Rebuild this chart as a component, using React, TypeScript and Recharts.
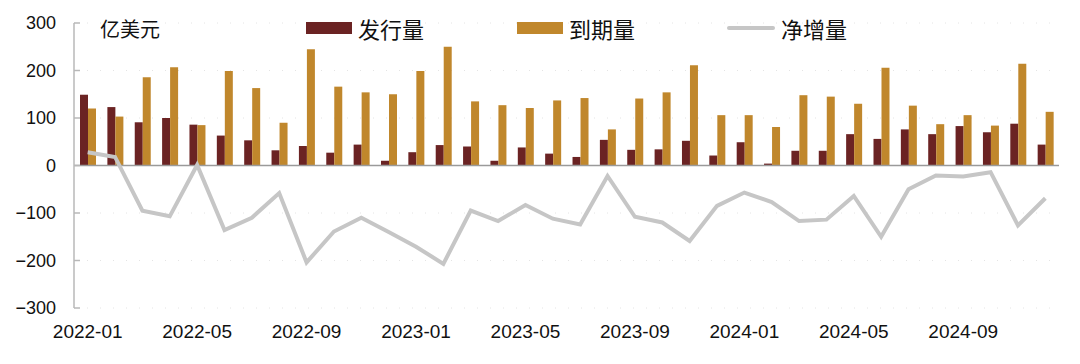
import {
  Bar,
  CartesianGrid,
  ComposedChart,
  Line,
  ReferenceLine,
  XAxis,
  YAxis,
} from 'recharts'

// monthly USD bonds, 亿美元
const months = [
  '2022-01', '2022-02', '2022-03', '2022-04', '2022-05', '2022-06',
  '2022-07', '2022-08', '2022-09', '2022-10', '2022-11', '2022-12',
  '2023-01', '2023-02', '2023-03', '2023-04', '2023-05', '2023-06',
  '2023-07', '2023-08', '2023-09', '2023-10', '2023-11', '2023-12',
  '2024-01', '2024-02', '2024-03', '2024-04', '2024-05', '2024-06',
  '2024-07', '2024-08', '2024-09', '2024-10', '2024-11', '2024-12',
]
const issuance = [
  149, 123, 91, 100, 86, 63, 53, 32, 41, 27, 44, 10,
  28, 43, 40, 10, 38, 25, 18, 54, 33, 34, 52, 21,
  49, 4, 31, 31, 66, 56, 76, 66, 83, 70, 88, 44,
]
const maturity = [
  120, 103, 186, 207, 85, 199, 163, 90, 245, 166, 154, 150,
  199, 250, 135, 127, 121, 137, 142, 76, 141, 154, 211, 106,
  106, 81, 148, 145, 130, 206, 126, 87, 106, 84, 214, 113,
]
const netIncrease = [
  28, 18, -95, -107, 1, -136, -110, -58, -204, -139, -110, -140,
  -171, -207, -95, -117, -83, -112, -124, -22, -108, -120, -159, -85,
  -57, -77, -117, -114, -64, -150, -50, -21, -23, -14, -126, -69,
]
const seriesNames = ['发行量', '到期量', '净增量']
const yTicks = [-300, -200, -100, 0, 100, 200, 300]

const COLORS = { issuance: '#6b2323', maturity: '#c0872c', net: '#c6c6c6' }
const FONT = '"Liberation Sans", Arial, "Noto Sans CJK SC", sans-serif'
const CJK = '"Noto Sans CJK SC", sans-serif'

const data = months.map((m, i) => ({
  month: m,
  issuance: issuance[i],
  maturity: maturity[i],
  net: netIncrease[i],
}))

function LegendBox() {
  const item = { position: 'absolute' as const, top: 13, display: 'flex', alignItems: 'center' }
  const label = { fontFamily: CJK, fontSize: 22, color: '#111', marginLeft: 6, lineHeight: '30px' }
  return (
    <>
      <div style={{ ...item, left: 306 }}>
        <div style={{ width: 46, height: 12, background: COLORS.issuance }} />
        <span style={label}>{seriesNames[0]}</span>
      </div>
      <div style={{ ...item, left: 517 }}>
        <div style={{ width: 46, height: 12, background: COLORS.maturity }} />
        <span style={label}>{seriesNames[1]}</span>
      </div>
      <div style={{ ...item, left: 727 }}>
        <div style={{ width: 48, height: 4, borderRadius: 2, background: COLORS.net }} />
        <span style={label}>{seriesNames[2]}</span>
      </div>
    </>
  )
}

export default function App() {
  return (
    <div style={{ position: 'absolute', left: 0, top: 0, width: 1080, height: 364, background: '#fff', fontFamily: FONT }}>
      <ComposedChart
        width={1080}
        height={364}
        data={data}
        margin={{ top: 23, right: 21, bottom: 0, left: 0 }}
        barCategoryGap="22%"
        barGap={0}
      >
        <CartesianGrid vertical={false} stroke="#e4e4e4" strokeDasharray="1 12" />
        <XAxis
          dataKey="month"
          interval={3}
          height={56}
          axisLine={false}
          tickLine={false}
          tickSize={6}
          tickMargin={11}
          tick={{ fill: '#111', fontSize: 19, fontFamily: FONT }}
        />
        <YAxis
          width={74}
          domain={[-300, 300]}
          ticks={yTicks}
          axisLine={{ stroke: '#b8b8b8', strokeWidth: 1.5 }}
          tickLine={{ stroke: '#b8b8b8', strokeWidth: 1.5 }}
          tickSize={-6}
          tickMargin={24}
          tickFormatter={(v: number) => String(v).replace('-', '−')}
          tick={{ fill: '#111', fontSize: 18, fontFamily: FONT }}
        />
        <Bar dataKey="issuance" name={seriesNames[0]} fill={COLORS.issuance} isAnimationActive={false} />
        <Bar dataKey="maturity" name={seriesNames[1]} fill={COLORS.maturity} isAnimationActive={false} />
        <ReferenceLine y={0} stroke="#9a9a9a" strokeWidth={1.5} />
        <Line
          type="linear"
          dataKey="net"
          name={seriesNames[2]}
          stroke={COLORS.net}
          strokeWidth={4}
          dot={false}
          activeDot={false}
          isAnimationActive={false}
        />
      </ComposedChart>
      <LegendBox />
      <div
        style={{
          position: 'absolute',
          left: 100,
          top: 15,
          fontFamily: CJK,
          fontSize: 20,
          color: '#111',
          lineHeight: '28px',
        }}
      >
        亿美元
      </div>
    </div>
  )
}
